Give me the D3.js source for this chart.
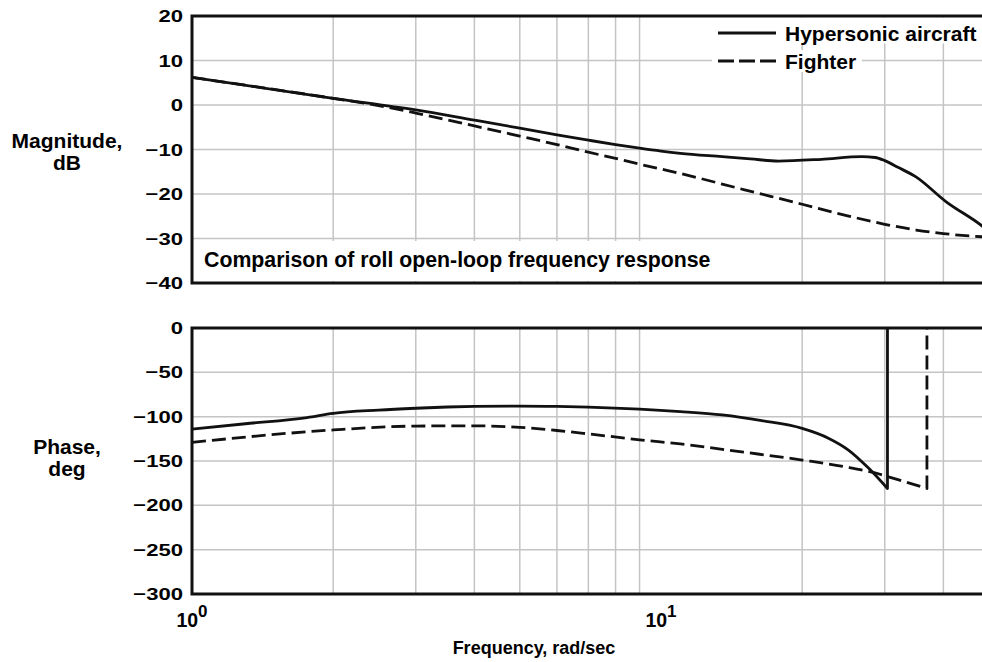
<!DOCTYPE html>
<html>
<head>
<meta charset="utf-8">
<style>
    body { margin: 0; background: #fff; }
    svg { display: block; font-family: "Liberation Sans", Arial, sans-serif; font-weight: bold; }
</style>
</head>
<body>
<svg width="982" height="662"></svg>

<script src="https://d3js.org/d3.v7.min.js"></script>
<script>
    // roll open-loop frequency response, read as (rad/sec, value) pairs
    const hyperMagFreq = [1, 2, 3, 4, 5, 6, 7, 8, 9, 10, 11, 13.5, 15.5, 17.8, 22, 26.8, 28.6, 30, 32, 34.9, 40.5, 48.4, 50];
    const hyperMagDb = [6.2, 1.5, -1.1, -3.4, -5.2, -6.7, -7.9, -8.9, -9.7, -10.35, -10.85, -11.6, -12.1, -12.6, -12.2, -11.6, -11.8, -12.5, -14.0, -16.1, -21.7, -27.2, -28.4];

    const fighterMagFreq = [1, 2, 2.4, 3, 4, 5, 6, 7, 8, 9, 10, 11, 15, 20, 25, 30, 35, 40, 50];
    const fighterMagDb = [6.2, 1.5, 0.2, -1.8, -4.7, -7.0, -8.9, -10.6, -12.0, -13.3, -14.4, -15.4, -19.0, -22.3, -24.9, -26.8, -28.1, -28.9, -29.7];

    const hyperPhaseFreq = [1, 1.3, 1.76, 2, 2.5, 3, 3.5, 4, 5, 6, 7, 9, 11, 13.5, 16.4, 20, 22.8, 25.1, 27.7, 30.4];
    const hyperPhaseDeg = [-114, -108, -101, -96.3, -92.6, -90.5, -89.1, -88.4, -88, -88.4, -89.2, -91.5, -94.3, -98.1, -104.5, -113.2, -124.5, -137.6, -158, -181];

    const fighterPhaseFreq = [1, 2, 3, 4, 5, 6, 7, 9, 11, 15, 20, 25, 28.6, 32, 36.9];
    const fighterPhaseDeg = [-129, -115, -110.6, -110.3, -112, -115.6, -119.4, -126.1, -130.8, -140, -148.9, -157, -163.5, -171, -181];

    const magTicks = [20, 10, 0, -10, -20, -30, -40];
    const phaseTicks = [0, -50, -100, -150, -200, -250, -300];
    const gridFreqs = [2, 3, 4, 5, 6, 7, 8, 9, 20, 30, 40];
    const decadeTicks = [1, 10];

    const width = 982;
    const left = 192;

    const svg = d3.select("svg");

    const x = d3.scaleLog().domain([1, 50]).range([left, left + 469 * Math.log10(50)]);
    const yMag = d3.scaleLinear().domain([-40, 20]).range([283, 16]);
    const yPh = d3.scaleLinear().domain([-300, 0]).range([594, 328]);

    const fmt = v => v < 0 ? "\u2212" + Math.abs(v) : String(v);

    function panel(y, ticks) {
        const g = svg.append("g");
        const [y0, y1] = y.range();

        // grid
        g.selectAll(".hgrid")
            .data(ticks.slice(1, -1))
            .join("line")
            .attr("x1", left).attr("x2", width)
            .attr("y1", d => y(d)).attr("y2", d => y(d))
            .style("stroke", "#c4c4c4")
            .style("stroke-width", 1.5);

        g.selectAll(".vgrid")
            .data(gridFreqs)
            .join("line")
            .attr("x1", d => x(d)).attr("x2", d => x(d))
            .attr("y1", y0).attr("y2", y1)
            .style("stroke", "#c4c4c4")
            .style("stroke-width", 1.5);

        // tick labels, drawn wide like the original plot
        g.selectAll(".tick-label")
            .data(ticks)
            .join("text")
            .attr("transform", d => `translate(183,${y(d)}) scale(1.3,1)`)
            .attr("dy", "0.36em")
            .attr("text-anchor", "end")
            .style("font-size", "17px")
            .text(fmt);

        return g;
    }

    function frame(y) {
        const [y0, y1] = y.range();
        svg.append("path")
            .attr("d", `M${width},${y1}H${left}V${y0}H${width}`)
            .style("fill", "none")
            .style("stroke", "#111")
            .style("stroke-width", 3);
    }

    panel(yMag, magTicks);
    panel(yPh, phaseTicks);

    // note box inside the magnitude panel
    svg.append("rect")
        .attr("x", 196).attr("y", 241)
        .attr("width", 520).attr("height", 40)
        .style("fill", "#fff");
    svg.append("text")
        .attr("x", 204).attr("y", 267)
        .style("font-size", "21.3px")
        .text("Comparison of roll open-loop frequency response");

    // legend
    svg.append("rect").attr("x", 712).attr("y", 17.5).attr("width", 270).attr("height", 26).style("fill", "#fff");
    svg.append("rect").attr("x", 712).attr("y", 50).attr("width", 150).attr("height", 22).style("fill", "#fff");

    const legend = [
        { name: "Hypersonic aircraft", dash: null, y: 33 },
        { name: "Fighter", dash: "16,5", y: 61 }
    ];
    legend.forEach(d => {
        svg.append("line")
            .attr("x1", 718).attr("x2", 776)
            .attr("y1", d.y).attr("y2", d.y)
            .style("stroke", "#111")
            .style("stroke-width", 3)
            .style("stroke-dasharray", d.dash);
        svg.append("text")
            .attr("x", 785).attr("y", d.y + 7.5)
            .style("font-size", "21px")
            .text(d.name);
    });

    // curves
    const zip = (a, b) => a.map((v, i) => [v, b[i]]);

    function curve(y, fs, vs, dash, wrap) {
        const line = d3.line()
            .x(d => x(d[0]))
            .y(d => y(d[1]))
            .curve(d3.curveMonotoneX);
        let d = line(zip(fs, vs));
        // phase wraps past -180: carry the line straight up to the top edge
        if (wrap) d += `L${x(fs[fs.length - 1])},${y(0)}`;
        svg.append("path")
            .attr("d", d)
            .style("fill", "none")
            .style("stroke", "#111")
            .style("stroke-width", 2.8)
            .style("stroke-linejoin", "round")
            .style("stroke-dasharray", dash);
    }

    curve(yMag, fighterMagFreq, fighterMagDb, "14,6", false);
    curve(yMag, hyperMagFreq, hyperMagDb, null, false);
    curve(yPh, fighterPhaseFreq, fighterPhaseDeg, "14,6", true);
    curve(yPh, hyperPhaseFreq, hyperPhaseDeg, null, true);

    frame(yMag);
    frame(yPh);

    // axis titles
    const titles = [
        { text: "Magnitude,", y: 148 },
        { text: "dB", y: 170 },
        { text: "Phase,", y: 454 },
        { text: "deg", y: 476 }
    ];
    svg.selectAll(".ytitle")
        .data(titles)
        .join("text")
        .attr("x", 67)
        .attr("y", d => d.y)
        .attr("text-anchor", "middle")
        .style("font-size", "21px")
        .text(d => d.text);

    // decade labels 10^0, 10^1
    svg.selectAll(".decade")
        .data(decadeTicks)
        .join("text")
        .attr("x", d => x(d))
        .attr("y", 627)
        .attr("text-anchor", "middle")
        .style("font-size", "19.5px")
        .each(function (d) {
            const t = d3.select(this);
            t.append("tspan").text("10");
            t.append("tspan")
                .attr("dy", -10)
                .style("font-size", "17px")
                .text(Math.round(Math.log10(d)));
        });

    svg.append("text")
        .attr("x", 534).attr("y", 654)
        .attr("text-anchor", "middle")
        .style("font-size", "18px")
        .text("Frequency, rad/sec");
</script>
</body>
</html>
